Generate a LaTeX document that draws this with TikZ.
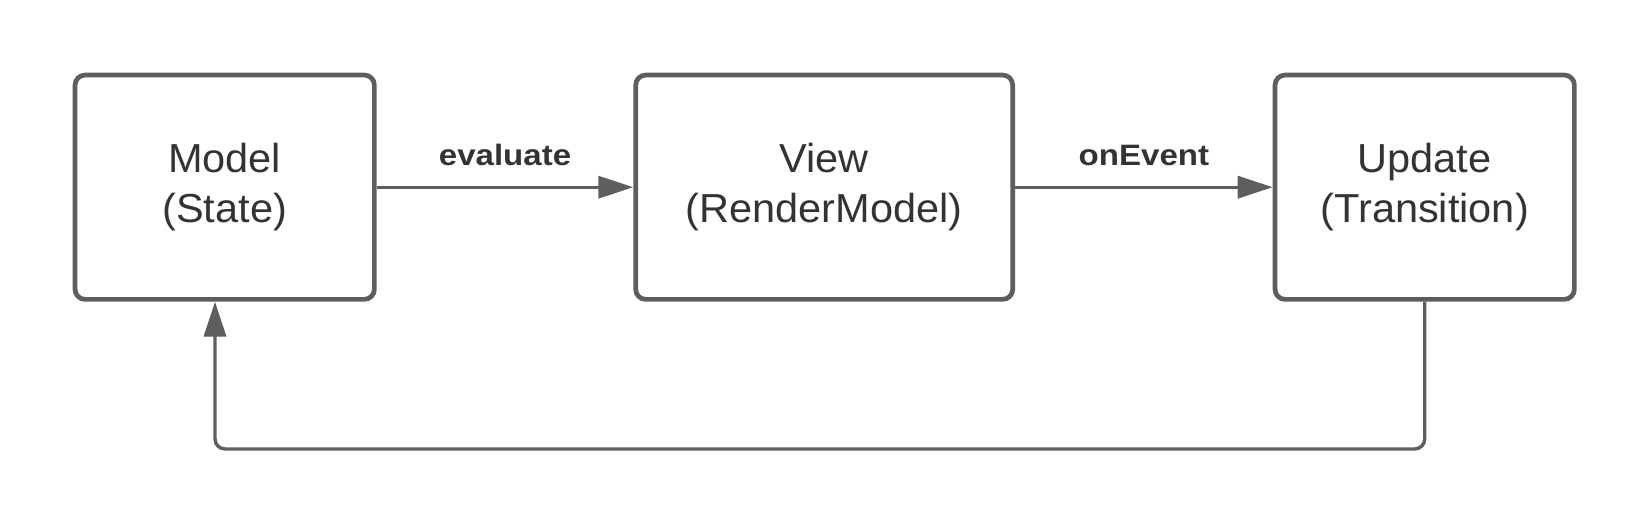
\documentclass[tikz,border=0pt]{standalone}
\usepackage{fontspec}
\setmainfont{Liberation Sans}
\usetikzlibrary{arrows.meta,calc}
\definecolor{edge}{HTML}{5E5E5E}
\definecolor{ink}{HTML}{333333}
\newcommand{\boxline}[1]{\raisebox{4.5pt}{\scalebox{1.025}[1]{#1}}}
\newcommand{\widelbl}[1]{\scalebox{1.12}[1]{#1}}
\tikzset{
  box/.style={draw=edge, line width=4.7pt, rounded corners=10pt, fill=white,
    minimum height=224.3pt, inner sep=0pt, align=center, text=ink,
    font=\fontsize{40.5pt}{49.5pt}\selectfont},
  conn/.style={draw=edge, line width=3.4pt, -{Triangle[length=35pt,width=22pt]}},
  lbl/.style={text=ink, font=\fontsize{29.5pt}{34pt}\selectfont\bfseries, anchor=base, inner sep=0pt}
}
\begin{document}
\begin{tikzpicture}[x=1pt,y=-1pt]
\useasboundingbox (0,0) rectangle (1650,525);
\node[box, minimum width=299.3pt] (m) at (224.7,187.2) {\boxline{Model}\\\boxline{(State)}};
\node[box, minimum width=377pt] (v) at (824.2,187.2) {\boxline{View}\\\boxline{(RenderModel)}};
\node[box, minimum width=299.3pt] (u) at (1424.7,187.2) {\boxline{Update}\\\boxline{(Transition)}};
\draw[conn] (m.east) -- node[lbl, pos=0.5, yshift=21.5pt] (le) {\widelbl{evaluate}} (v.west);
\draw[conn] (v.east) -- node[lbl, pos=0.5, yshift=21.5pt] (lo) {\widelbl{onEvent}} (u.west);
\coordinate (fb) at (215,449);
\draw[conn, rounded corners=10pt] (u.south) |- (fb) -- (fb |- m.south);
\end{tikzpicture}
\end{document}
